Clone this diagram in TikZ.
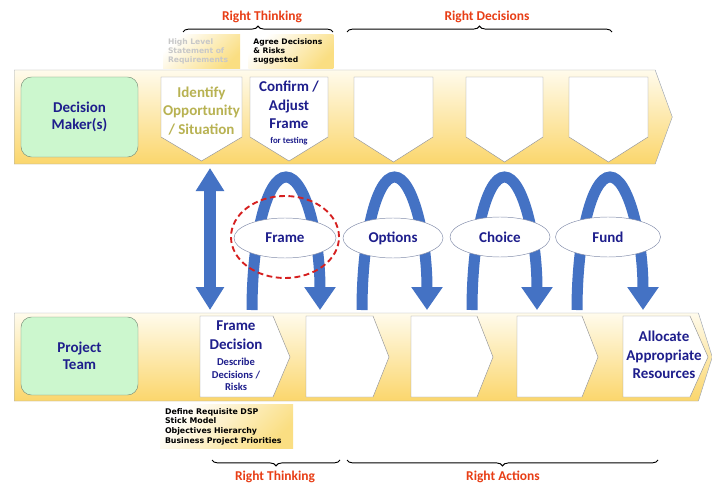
\documentclass[tikz,border=0pt]{standalone}
\usepackage{fontspec}
\setmainfont{Carlito}
\newfontfamily\notefont{DejaVu Sans}
\usepackage{xcolor}
\usepackage{tikz}
\usetikzlibrary{shapes.geometric,shapes.symbols}
\usetikzlibrary{arrows.meta}
\usetikzlibrary{decorations.pathreplacing}
\usetikzlibrary{positioning}

\definecolor{labelblue}{RGB}{30,30,140}
\definecolor{oppolive}{RGB}{184,178,82}
\definecolor{rightred}{RGB}{232,62,22}
\definecolor{arrowblue}{RGB}{68,114,196}
\definecolor{bandedge}{RGB}{160,168,180}
\definecolor{bandtop}{RGB}{255,251,236}
\definecolor{bandbot}{RGB}{251,214,108}
\definecolor{whofill}{RGB}{204,247,206}
\definecolor{whoedge}{RGB}{120,140,120}
\definecolor{boxedge}{RGB}{150,150,150}
\definecolor{ovaledge}{RGB}{130,140,170}
\definecolor{notegold}{RGB}{250,222,130}
\definecolor{notegray}{RGB}{200,200,200}
\definecolor{ringred}{RGB}{214,32,32}

\begin{document}
\begin{tikzpicture}[x=0.03cm,y=-0.03cm,font=\bfseries]
  \tikzstyle{band}=[signal, signal to=east, signal from=nowhere, draw=bandedge, top color=bandtop, bottom color=bandbot, anchor=west, inner sep=0pt]
  \tikzstyle{who}=[draw=whoedge, fill=whofill, rounded corners=9pt, minimum width=3.51cm, minimum height=2.4cm, align=center, text=labelblue, font=\fontsize{12.8}{14.5}\selectfont\bfseries]
  \tikzstyle{boxline}=[draw=boxedge, fill=white]
  \tikzstyle{steptext}=[align=center, inner sep=0pt, text=labelblue, font=\fontsize{12.8}{16}\selectfont\bfseries]
  \tikzstyle{stage}=[ellipse, draw=ovaledge, fill=white, minimum width=3.06cm, minimum height=1.2cm, text=labelblue, font=\fontsize{12.8}{15}\selectfont\bfseries]
  \tikzstyle{note}=[shading=axis, top color=white, middle color=white, bottom color=notegold, shading angle=45, align=left, inner xsep=0.15cm, font=\notefont\bfseries\fontsize{6.5}{7.7}\selectfont]
  \tikzstyle{heading}=[text=rightred, font=\fontsize{11.5}{13}\selectfont\bfseries]
  \tikzstyle{brace}=[decorate, decoration={brace, amplitude=5pt}, thick]
  \tikzstyle{updown}=[arrowblue, line width=0.38cm, shorten <=0.4pt, -{Triangle[width=0.81cm,length=0.69cm]}]
  \tikzstyle{turn}=[arrowblue, line width=0.33cm, -{Triangle[width=0.9cm,length=0.69cm]}]

  \fill[white] (0,0) rectangle (712,483);
  \useasboundingbox (0,0) rectangle (712,483);

  % headings and braces
  \node[heading] (thinktop) at (262,17) {Right Thinking};
  \node[heading] (decide) at (487,17) {Right Decisions};
  \node[heading] (thinkbot) at (275,477) {Right Thinking};
  \node[heading] (act) at (503,477) {Right Actions};
  \coordinate (b1l) at (183,32); \coordinate (b1r) at (333,32);
  \coordinate (b2l) at (347,32); \coordinate (b2r) at (612,32);
  \coordinate (b3l) at (212,460); \coordinate (b3r) at (340,460);
  \coordinate (b4l) at (347,460); \coordinate (b4r) at (658,460);
  \draw[brace] (b1l) -- (b1r);
  \draw[brace] (b2l) -- (b2r);
  \draw[brace] (b3r) -- (b3l);
  \draw[brace] (b4r) -- (b4l);

  % notes
  \node[note, text=notegray, text width=2.01cm, minimum height=0.99cm] (high) at (201.5,51.5) {High Level\\Statement of\\Requirements};
  \node[note, text=black, text width=2.25cm, minimum height=0.99cm, right=0.24cm of high] (agree) {Agree Decisions\\\& Risks\\suggested};
  \node[note, text=black, text width=3.69cm, minimum height=1.29cm, font=\notefont\bfseries\fontsize{6.7}{8.2}\selectfont] (define) at (226.5,426.5) {Define Requisite DSP\\Stick Model\\Objectives Hierarchy\\Business Project Priorities};

  % bands
  \node[band, minimum width=19.74cm, minimum height=2.82cm, signal pointer angle=140] (topband) at (14,117) {};
  \node[band, minimum width=20.94cm, minimum height=2.64cm, signal pointer angle=145] (botband) at (14,357) {};

  \node[who] (dm) at (79.5,117) {Decision\\Maker(s)};
  \node[who, minimum height=2.34cm] (pt) at (79.5,356) {Project\\Team};

  % decision maker steps
  \draw[boxline] (161,77) -- (242,77) -- (242,137) -- (201.5,161) -- (161,137) -- cycle;
  \draw[boxline] (250,77) -- (328,77) -- (328,137) -- (289,161) -- (250,137) -- cycle;
  \draw[boxline] (354,77) -- (433,77) -- (433,137) -- (393.5,162) -- (354,137) -- cycle;
  \draw[boxline] (466,77) -- (543,77) -- (543,137) -- (504.5,162) -- (466,137) -- cycle;
  \draw[boxline] (569,77) -- (648,77) -- (648,137) -- (608.5,162) -- (569,137) -- cycle;
  \node[steptext, text=oppolive] (identify) at (201.5,111) {Identify\\Opportunity\\/ Situation};
  \node[steptext] (confirm) at (289,113) {Confirm /\\Adjust\\Frame\\[-3.3pt]{\fontsize{7.5}{9}\selectfont for testing}};

  % project team steps
  \draw[boxline] (200,316) -- (273,316) -- (290,357) -- (273,397) -- (200,397) -- cycle;
  \draw[boxline] (306,316) -- (373,316) -- (389,357) -- (373,397) -- (306,397) -- cycle;
  \draw[boxline] (411,316) -- (477,316) -- (493,357) -- (477,397) -- (411,397) -- cycle;
  \draw[boxline] (517,316) -- (582,316) -- (598,357) -- (582,397) -- (517,397) -- cycle;
  \draw[boxline] (623,316) -- (690,316) -- (708,357) -- (690,397) -- (623,397) -- cycle;
  \node[steptext] (fdec) at (236,356) {Frame\\Decision\\[-2.5pt]{\fontsize{9}{11}\selectfont Describe}\\[-5pt]{\fontsize{9}{11}\selectfont Decisions /}\\[-5pt]{\fontsize{9}{11}\selectfont Risks}};
  \node[steptext] (allocate) at (664,355) {Allocate\\Appropriate\\Resources};

  % arrows between the teams
  \coordinate (split) at (210,239);
  \coordinate (uptip) at (210,168);
  \coordinate (downtip) at (210,310);
  \draw[updown] (split) -- (uptip);
  \draw[updown] (split) -- (downtip);

  \coordinate (frameL) at (252,310); \coordinate (frameT) at (286,177); \coordinate (frameR) at (320,310);
  \coordinate (optL) at (362,310); \coordinate (optT) at (394.5,177); \coordinate (optR) at (427,310);
  \coordinate (choiceL) at (472,310); \coordinate (choiceT) at (504.5,177); \coordinate (choiceR) at (537,310);
  \coordinate (fundL) at (577,310); \coordinate (fundT) at (610,177); \coordinate (fundR) at (643,310);
  \draw[turn] (frameL) .. controls +(0,-73) and +(-19,0) .. (frameT) .. controls +(19,0) and +(0,-73) .. (frameR);
  \draw[turn] (optL) .. controls +(0,-73) and +(-18,0) .. (optT) .. controls +(18,0) and +(0,-73) .. (optR);
  \draw[turn] (choiceL) .. controls +(0,-73) and +(-18,0) .. (choiceT) .. controls +(18,0) and +(0,-73) .. (choiceR);
  \draw[turn] (fundL) .. controls +(0,-73) and +(-18,0) .. (fundT) .. controls +(18,0) and +(0,-73) .. (fundR);

  \node[stage] (frame) at (285,238) {Frame};
  \node[stage, minimum width=3cm] (options) at (393,238) {Options};
  \node[stage, minimum width=3cm] (choice) at (500,237) {Choice};
  \node[stage, minimum width=3.15cm] (fund) at (608,237) {Fund};

  \node[ellipse, draw=ringred, line width=1.6pt, dash pattern=on 5pt off 3pt, minimum width=3.24cm, minimum height=2.46cm] (ring) at (285,237) {};
\end{tikzpicture}
\end{document}
